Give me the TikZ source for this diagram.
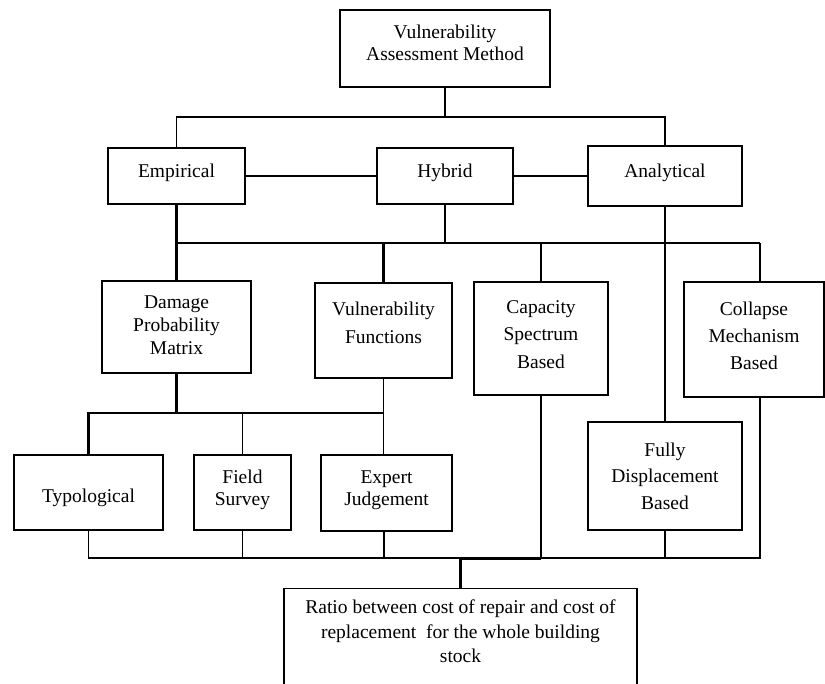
\documentclass[tikz,border=0pt]{standalone}
\usepackage{fontspec}
\setmainfont{Liberation Serif}
\newcommand\mydn[1]{\rule{0pt}{#1}}
\newcommand\myup[1]{\rule[-#1]{0pt}{#1}}
\begin{document}
\begin{tikzpicture}[x=1pt,y=-1pt,
  box/.style={draw,line width=1.3pt,align=center,inner sep=2pt,font=\fontsize{19.5}{#1}\selectfont},
  box/.default=23.5pt,
  conn/.style={line width=1.3pt},
  thk/.style={line width=2.4pt}]
\useasboundingbox (0,0) rectangle (825,684);
\clip (0,0) rectangle (825,684);
% nodes
\node[box=22pt,minimum width=210pt,minimum height=77pt] (vam) at (445,48.5) {Vulnerability\\Assessment Method\myup{11pt}};
\node[box,minimum width=137pt,minimum height=56pt] (emp) at (176.5,176) {Empirical\myup{10pt}};
\node[box,minimum width=136pt,minimum height=56pt] (hyb) at (445,176) {Hybrid\myup{10pt}};
\node[box,minimum width=154pt,minimum height=60pt] (ana) at (665,176) {Analytical\myup{10pt}};
\node[box=23pt,minimum width=149pt,minimum height=92pt] (dpm) at (176.5,327) {Damage\\Probability\\Matrix\myup{3pt}};
\node[box=28pt,minimum width=137pt,minimum height=95pt] (vf) at (383.5,330.5) {\mydn{13pt}Vulnerability\\Functions\myup{15pt}};
\node[box=27.5pt,minimum width=134pt,minimum height=113pt] (csb) at (541,338.5) {Capacity\\Spectrum\\Based\myup{8pt}};
\node[box=27pt,minimum width=140pt,minimum height=115pt] (cmb) at (754,339.5) {Collapse\\Mechanism\\Based\myup{8pt}};
\node[box=26.5pt,minimum width=154pt,minimum height=108pt] (fdb) at (665,476) {Fully\\Displacement\\Based};
\node[box,minimum width=149pt,minimum height=75pt] (typ) at (88.5,492.5) {\mydn{25pt}Typological};
\node[box=22pt,minimum width=97pt,minimum height=75pt] (fs) at (242.5,492.5) {Field\\Survey\myup{9pt}};
\node[box=22pt,minimum width=131pt,minimum height=76pt] (ej) at (386.5,493) {Expert\\Judgement\myup{9pt}};
\node[draw,line width=1.3pt,minimum width=353pt,minimum height=130pt,anchor=north] (ratio) at (460.5,588) {};
\node[align=center,anchor=north,inner sep=2pt,font=\fontsize{19.5}{24.5}\selectfont] (ratiotext) at ([yshift=-10pt]ratio.north) {Ratio between cost of repair and cost of\\replacement\ \ for the whole building\\stock};
% level 1 connectors
\draw[conn] (vam.south) -- (vam.south |- 0,117);
\draw[conn] (emp.north) -- (emp.north |- 0,117) -- (ana.north |- 0,117) -- (ana.north);
\draw[conn] (emp.east) -- (hyb.west);
\draw[conn] (hyb.east) -- (ana.west);
% level 2 bus
\draw[thk] (emp.south) -- (dpm.north);
\draw[conn] (emp.south |- 0,243) -- ([xshift=6pt]cmb.north |- 0,243);
\draw[conn] (hyb.south) -- (hyb.south |- 0,243);
\draw[conn] (ana.south) -- (fdb.north);
\draw[thk] (vf.north |- 0,243) -- (vf.north);
\draw[conn] (csb.north |- 0,243) -- (csb.north);
\draw[conn] ([xshift=6pt]cmb.north |- 0,243) -- ([xshift=6pt]cmb.north);
% level 3 bus
\draw[thk] (dpm.south) -- (dpm.south |- 0,413) -- (typ.north |- 0,413) -- (typ.north);
\draw[conn] (dpm.south |- 0,413) -- (vf.south |- 0,413);
\draw[conn] (fs.north |- 0,413) -- (fs.north);
\draw[conn] (vf.south) -- (vf.south |- ej.north);
% bottom bus
\draw[conn] (typ.south) -- (typ.south |- 0,558) -- ([xshift=6pt]cmb.south |- 0,558) -- ([xshift=6pt]cmb.south);
\draw[conn] (fs.south) -- (fs.south |- 0,558);
\draw[conn] ([xshift=-2.5pt]ej.south) -- ([xshift=-2.5pt]ej.south |- 0,558);
\draw[conn] (csb.south) -- (csb.south |- 0,558);
\draw[conn] (fdb.south) -- (fdb.south |- 0,558);
\draw[thk] (csb.south |- 0,559) -- (ratio.north |- 0,559) -- (ratio.north);
\end{tikzpicture}
\end{document}
